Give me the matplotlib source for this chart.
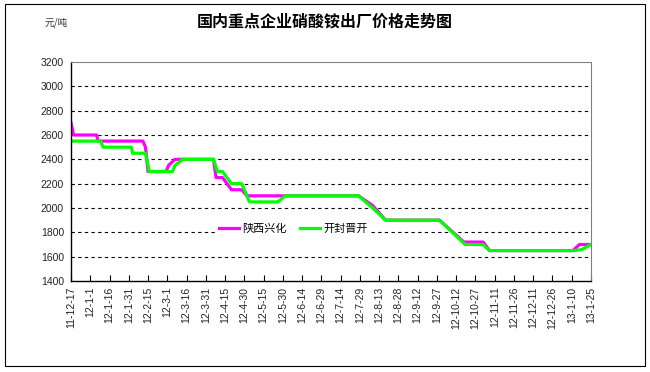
import matplotlib.pyplot as plt
import pandas as pd
from matplotlib.patches import Rectangle

# 陕西兴化 price change points
sx_dates = ['2011-12-17', '2011-12-19', '2012-01-06', '2012-01-07', '2012-02-11', '2012-02-13',
            '2012-02-15', '2012-02-29', '2012-03-02', '2012-03-07', '2012-04-06', '2012-04-08',
            '2012-04-13', '2012-04-20', '2012-04-28', '2012-05-02', '2012-07-28', '2012-08-08',
            '2012-08-18', '2012-09-29', '2012-10-18', '2012-11-02', '2012-11-07',
            '2013-01-11', '2013-01-16', '2013-01-25']
sx_price = [2700, 2600, 2600, 2550, 2550, 2500,
            2300, 2300, 2350, 2400, 2400, 2250,
            2250, 2150, 2150, 2100, 2100, 2020,
            1900, 1900, 1720, 1720, 1650,
            1650, 1700, 1700]

# 开封晋开 price change points
kf_dates = ['2011-12-17', '2012-01-09', '2012-01-11', '2012-02-02', '2012-02-03', '2012-02-13',
            '2012-02-16', '2012-03-05', '2012-03-07', '2012-03-13', '2012-04-06', '2012-04-09',
            '2012-04-13', '2012-04-20', '2012-04-28', '2012-05-04', '2012-05-26', '2012-06-01',
            '2012-07-28', '2012-08-08', '2012-08-18', '2012-09-29', '2012-10-19', '2012-11-02',
            '2012-11-07', '2013-01-13', '2013-01-18', '2013-01-25']
kf_price = [2550, 2550, 2500, 2500, 2450, 2450,
            2300, 2300, 2350, 2400, 2400, 2300,
            2300, 2200, 2200, 2050, 2050, 2100,
            2100, 2000, 1900, 1900, 1700, 1700,
            1650, 1650, 1660, 1700]

tick_dates = pd.date_range('2011-12-17', periods=28, freq='15D')
tick_labels = [f"{d.year % 100}-{d.month}-{d.day}" for d in tick_dates]
y_ticks = list(range(1400, 3201, 200))

cjk = ['Noto Sans CJK SC', 'DejaVu Sans']

fig = plt.figure(figsize=(6.5, 3.72), dpi=100)
fig.patches.append(Rectangle((5/650, 1-366/372), 640/650, 362/372, transform=fig.transFigure,
                             fill=False, edgecolor='black', linewidth=0.8))
ax = fig.add_axes([71/650, 1-281/372, 520/650, 219/372])

ax.plot(pd.to_datetime(sx_dates), sx_price, color='#FF00FF', lw=2.3, label='陕西兴化')
ax.plot(pd.to_datetime(kf_dates), kf_price, color='#00FF00', lw=2.3, label='开封晋开')

ax.set_xlim(tick_dates[0], tick_dates[-1])
ax.set_ylim(1400, 3200)
ax.set_xticks(tick_dates)
ax.set_xticklabels(tick_labels, rotation=90, fontsize=7.5, family='Liberation Sans', color='#222')
ax.set_yticks(y_ticks)
ax.set_yticklabels([str(v) for v in y_ticks], fontsize=7.5, family='Liberation Sans', color='#222')
ax.tick_params(axis='x', direction='in', length=4, pad=4)
ax.tick_params(axis='y', length=0, pad=5)

for v in y_ticks[1:-1]:
    ax.axhline(v, color='black', lw=0.8, ls=(0, (3, 3)), zorder=0)

ax.spines['top'].set_color('#808080')
ax.spines['right'].set_color('#808080')
ax.spines['left'].set_linewidth(1.0)
ax.spines['bottom'].set_linewidth(1.0)

fig.text(0.5, 1-22/372, '国内重点企业硝酸铵出厂价格走势图', ha='center', va='center',
         fontsize=11.5, fontweight='bold', family=cjk)
fig.text(45/650, 1-23/372, '元/吨', ha='left', va='center', fontsize=7, family=cjk, color='#333')

leg = ax.legend(loc='center', bbox_to_anchor=(293/650, 1-229/372), bbox_transform=fig.transFigure,
                ncol=2, frameon=True, handlelength=1.8, handletextpad=0.3, columnspacing=1.2,
                borderpad=0.2, fancybox=False, framealpha=1, prop={'family': cjk, 'size': 8})
leg.get_frame().set_edgecolor('none')
leg.get_frame().set_facecolor('white')

fig.savefig('out.png', dpi=100)
